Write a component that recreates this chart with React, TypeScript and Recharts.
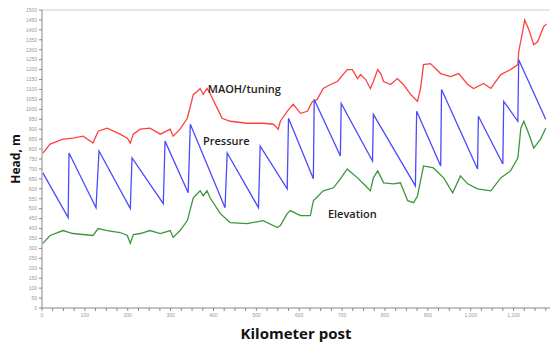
import React from "react";
import {
  LineChart,
  Line,
  XAxis,
  YAxis,
  ReferenceLine,
  ReferenceDot,
} from "recharts";

// kilometer post / head (m) pairs
const maohKm = [2, 19, 49, 72, 96, 119, 131, 152, 182, 199, 206, 213, 229, 252, 276, 299, 306, 322, 339, 353, 362, 369, 376, 385, 392, 409, 420, 439, 479, 516, 540, 551, 556, 572, 586, 603, 619, 631, 642, 656, 673, 689, 712, 724, 736, 743, 755, 766, 773, 783, 790, 797, 813, 829, 843, 860, 876, 883, 890, 906, 930, 953, 972, 993, 1007, 1030, 1047, 1070, 1093, 1110, 1112, 1121, 1126, 1135, 1147, 1156, 1170, 1177];
const maohHead = [780, 825, 850, 855, 865, 830, 890, 905, 875, 855, 830, 875, 900, 905, 875, 900, 865, 900, 955, 1075, 1090, 1105, 1075, 1105, 1080, 1005, 955, 940, 930, 930, 925, 900, 940, 990, 1025, 980, 990, 1040, 1050, 1105, 1125, 1140, 1200, 1200, 1155, 1175, 1150, 1105, 1140, 1200, 1180, 1140, 1125, 1155, 1125, 1075, 1040, 1105, 1225, 1230, 1180, 1165, 1180, 1125, 1105, 1130, 1105, 1175, 1200, 1225, 1290, 1390, 1450, 1405, 1325, 1340, 1415, 1430];

const pressureKm = [2, 61, 63, 126, 133, 206, 210, 283, 287, 341, 346, 427, 432, 505, 509, 572, 575, 633, 635, 696, 698, 771, 773, 871, 874, 930, 932, 1016, 1018, 1075, 1077, 1110, 1112, 1175];
const pressureHead = [680, 455, 780, 505, 790, 500, 755, 525, 840, 580, 925, 505, 780, 505, 815, 600, 955, 650, 1050, 765, 1030, 740, 975, 615, 990, 715, 1100, 700, 965, 725, 1040, 940, 1250, 950];

const elevKm = [2, 19, 49, 72, 119, 131, 152, 182, 199, 206, 213, 229, 252, 276, 299, 306, 322, 339, 353, 362, 369, 376, 385, 392, 416, 439, 479, 516, 549, 556, 572, 579, 603, 626, 633, 656, 680, 696, 712, 736, 750, 766, 773, 783, 797, 820, 836, 853, 867, 876, 890, 913, 937, 958, 976, 993, 1016, 1047, 1070, 1093, 1110, 1117, 1124, 1135, 1147, 1163, 1175];
const elevHead = [325, 365, 390, 375, 365, 400, 390, 380, 365, 325, 370, 375, 390, 375, 390, 355, 390, 440, 555, 575, 590, 565, 590, 555, 475, 430, 425, 440, 405, 415, 475, 490, 465, 465, 540, 590, 605, 650, 700, 655, 625, 590, 655, 690, 630, 625, 630, 540, 530, 565, 715, 705, 655, 580, 665, 625, 600, 590, 655, 690, 755, 905, 940, 880, 805, 850, 905];

const xTicks = Array.from({ length: 48 }, (_, i) => i * 25);
const yTicks = Array.from({ length: 31 }, (_, i) => i * 50);

const toRows = (km: number[], head: number[]) =>
  km.map((k, i) => ({ km: k, head: head[i] }));

const maoh = toRows(maohKm, maohHead);
const pressure = toRows(pressureKm, pressureHead);
const elevation = toRows(elevKm, elevHead);

const fmtKm = (v: number) => (v % 100 === 0 ? v.toLocaleString("en-US") : "");

const seriesLabel = (text: string) => ({
  value: text,
  position: "center" as const,
  style: {
    fontFamily: "'Open Sans', sans-serif",
    fontSize: 11,
    fontWeight: 600,
    fill: "#222",
  },
});

export default function App() {
  return (
    <div style={{ position: "absolute", left: 0, top: 0, background: "#fff" }}>
      <LineChart
        width={553}
        height={346}
        margin={{ top: 10, right: 3, bottom: 0, left: 0 }}
      >
        <XAxis
          type="number"
          dataKey="km"
          domain={[0, 1185]}
          ticks={xTicks}
          tickFormatter={fmtKm}
          interval={0}
          height={38}
          stroke="#888"
          tickSize={3}
          tick={{ fontSize: 5, fill: "#999", fontFamily: "Arial" }}
          label={{
            value: "Kilometer post",
            position: "insideBottom",
            offset: 7,
            style: {
              fontFamily: "'Open Sans', sans-serif",
              fontSize: 15,
              fontWeight: 700,
              fill: "#111",
            },
          }}
        />
        <YAxis
          type="number"
          domain={[0, 1500]}
          ticks={yTicks}
          interval={0}
          width={42}
          stroke="#888"
          tickSize={3}
          tick={{ fontSize: 5, fill: "#999", fontFamily: "Arial" }}
          label={{
            value: "Head, m",
            angle: -90,
            position: "insideLeft",
            offset: 16,
            style: {
              fontFamily: "'Open Sans', sans-serif",
              fontSize: 12,
              fontWeight: 700,
              fill: "#111",
              textAnchor: "middle",
            },
          }}
        />
        <ReferenceLine y={1500} stroke="#ddd" strokeWidth={1.5} />
        <Line
          data={maoh}
          dataKey="head"
          stroke="#ff4040"
          strokeWidth={1.3}
          dot={false}
          isAnimationActive={false}
        />
        <Line
          data={pressure}
          dataKey="head"
          stroke="#4a4aff"
          strokeWidth={1.3}
          dot={false}
          isAnimationActive={false}
        />
        <Line
          data={elevation}
          dataKey="head"
          stroke="#3c963c"
          strokeWidth={1.3}
          dot={false}
          isAnimationActive={false}
        />
        <ReferenceDot x={472} y={1100} r={0} label={seriesLabel("MAOH/tuning")} />
        <ReferenceDot x={430} y={840} r={0} label={seriesLabel("Pressure")} />
        <ReferenceDot x={724} y={475} r={0} label={seriesLabel("Elevation")} />
      </LineChart>
    </div>
  );
}
